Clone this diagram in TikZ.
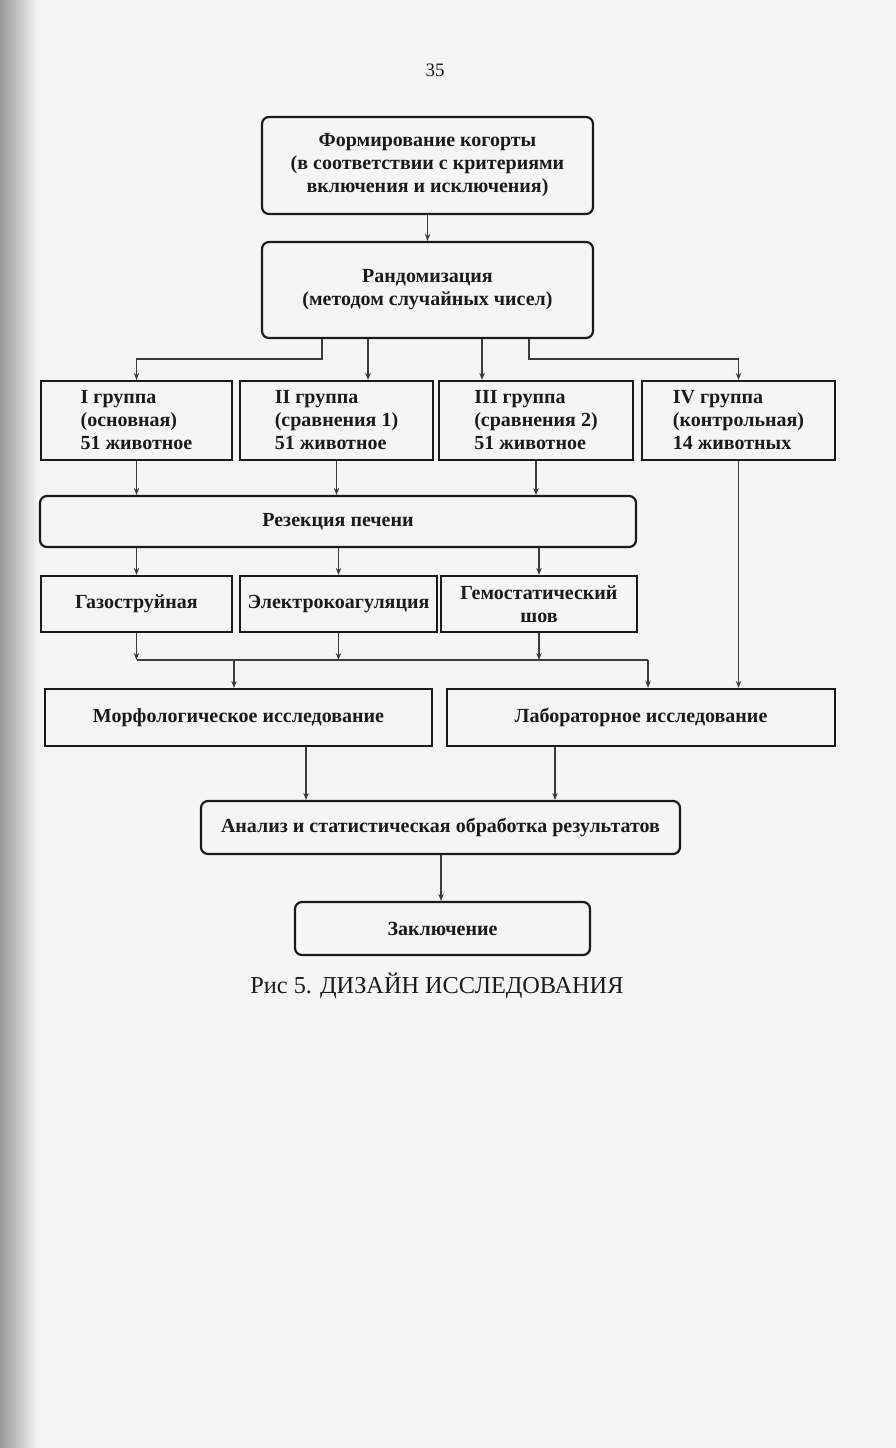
\documentclass[tikz,border=0pt]{standalone}
\usepackage{fontspec}
\setmainfont{Liberation Serif}
\usetikzlibrary{arrows.meta,calc}
\definecolor{ink}{HTML}{1A1A1A}
\definecolor{pagebg}{HTML}{F5F5F5}
\begin{document}
\begin{tikzpicture}[x=1pt,y=-1pt,
  box/.style={draw=ink, line width=2.2pt, text=ink, align=center, inner sep=0pt,
    font=\bfseries\fontsize{20}{23}\selectfont},
  rbox/.style={box, rounded corners=7pt},
  conn/.style={draw=ink!85, line width=1.4pt},
  arr/.style={conn, -{Stealth[length=7pt,width=5.5pt]}}]
\useasboundingbox (0,0) rectangle (896,1448);
\fill[pagebg] (0,0) rectangle (896,1448);
\shade[left color=black!40, right color=pagebg] (0,0) rectangle (38,1448);

\node[text=ink, font=\fontsize{19}{21}\selectfont] (pnum) at (435,70) {35};

\node[rbox, minimum width=331pt, minimum height=97pt] (b1) at (427.5,165.5)
  {Формирование когорты\\(в соответствии с критериями\\включения и исключения)};
\node[rbox, minimum width=331pt, minimum height=96pt] (b2) at (427.5,290)
  {Рандомизация\\(методом случайных чисел)};

\node[box, minimum width=191pt, minimum height=79pt, align=left] (g1) at (136.5,420.5)
  {I группа\\(основная)\\51 животное};
\node[box, minimum width=193pt, minimum height=79pt, align=left] (g2) at (336.5,420.5)
  {II группа\\(сравнения 1)\\51 животное};
\node[box, minimum width=194pt, minimum height=79pt, align=left] (g3) at (536,420.5)
  {III группа\\(сравнения 2)\\51 животное};
\node[box, minimum width=193pt, minimum height=79pt, align=left] (g4) at (738.5,420.5)
  {IV группа\\(контрольная)\\14 животных};

\node[rbox, minimum width=596pt, minimum height=51pt] (res) at (338,521.5)
  {Резекция печени};

\node[box, minimum width=191pt, minimum height=56pt] (m1) at (136.5,604) {Газоструйная};
\node[box, minimum width=197pt, minimum height=56pt] (m2) at (338.5,604) {Электрокоагуляция};
\node[box, minimum width=196pt, minimum height=56pt] (m3) at (539,604) {Гемостатический\\шов};

\node[box, minimum width=387pt, minimum height=57pt] (morph) at (238.5,717.5)
  {Морфологическое исследование};
\node[box, minimum width=388pt, minimum height=57pt] (lab) at (641,717.5)
  {Лабораторное исследование};

\node[rbox, minimum width=479pt, minimum height=53pt] (an) at (440.5,827.5)
  {Анализ и статистическая обработка результатов};
\node[rbox, minimum width=295pt, minimum height=53pt] (concl) at (442.5,928.5)
  {Заключение};

\node[text=ink, font=\fontsize{24.3}{28}\selectfont] (cap) at (437,986)
  {Рис 5. ДИЗАЙН ИССЛЕДОВАНИЯ};

% column coordinates
\coordinate (xa) at (322,0);
\coordinate (xb) at (368,0);
\coordinate (xc) at (482,0);
\coordinate (xd) at (529,0);
\coordinate (spl) at (0,359);
\coordinate (mrg) at (0,660);
\coordinate (xm) at (234,0);
\coordinate (xl) at (648,0);
\coordinate (xo) at (306,0);
\coordinate (xp) at (555,0);
\coordinate (xq) at (441,0);

\draw[arr] (b1.south) -- (b2.north);

\draw[arr] (xa |- b2.south) -- (xa |- spl) -- (g1.north |- spl) -- (g1.north);
\draw[arr] (xb |- b2.south) -- (xb |- g2.north);
\draw[arr] (xc |- b2.south) -- (xc |- g3.north);
\draw[arr] (xd |- b2.south) -- (xd |- spl) -- (g4.north |- spl) -- (g4.north);

\draw[arr] (g1.south) -- (g1.south |- res.north);
\draw[arr] (g2.south) -- (g2.south |- res.north);
\draw[arr] (g3.south) -- (g3.south |- res.north);
\draw[arr] (g4.south) -- (g4.south |- lab.north);

\draw[arr] (m1.north |- res.south) -- (m1.north);
\draw[arr] (m2.north |- res.south) -- (m2.north);
\draw[arr] (m3.north |- res.south) -- (m3.north);

\draw[arr] (m1.south) -- (m1.south |- mrg);
\draw[arr] (m2.south) -- (m2.south |- mrg);
\draw[arr] (m3.south) -- (m3.south |- mrg);
\draw[conn] (m1.south |- mrg) -- (xl |- mrg);
\draw[arr] (xm |- mrg) -- (xm |- morph.north);
\draw[arr] (xl |- mrg) -- (xl |- lab.north);

\draw[arr] (xo |- morph.south) -- (xo |- an.north);
\draw[arr] (xp |- lab.south) -- (xp |- an.north);
\draw[arr] (xq |- an.south) -- (xq |- concl.north);
\end{tikzpicture}
\end{document}
